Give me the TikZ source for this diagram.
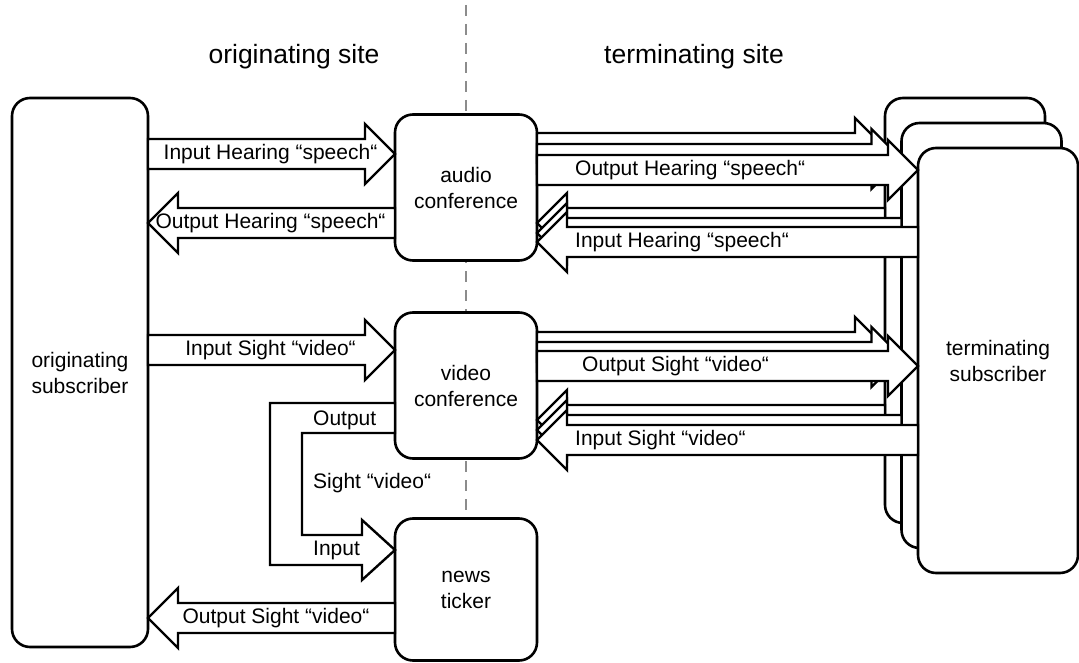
\documentclass[tikz,border=0pt]{standalone}
\usepackage{fontspec}
\setmainfont{Liberation Sans}
\usetikzlibrary{positioning,calc,backgrounds}
\definecolor{sitegray}{HTML}{8C8C8C}

% hollow block arrow between two points on one level
\newcommand{\flexarrow}[2]{%
  \draw[flex] let \p1=#1, \p2=#2, \p3=($#2!30pt!#1$) in
    (\x1,\y2+15pt) -- (\x3,\y2+15pt) -- (\x3,\y2+30pt) -- (\x2,\y2)
    -- (\x3,\y2-30pt) -- (\x3,\y2-15pt) -- (\x1,\y2-15pt) -- cycle;}

\begin{document}
\begin{tikzpicture}[x=1pt,y=-1pt,
  font=\fontsize{21}{26}\selectfont,
  box/.style={draw,line width=2.6pt,fill=white,rounded corners=18pt,align=center,
              inner sep=0pt,outer sep=0pt},
  midbox/.style={box,minimum width=142pt,minimum height=146pt},
  subbox/.style={box,minimum width=160pt,minimum height=425pt},
  flex/.style={draw,line width=2.4pt,fill=white,line join=miter},
  lbl/.style={inner sep=0pt},
  sitelbl/.style={font=\fontsize{26.5}{30}\selectfont},
  sep/.style={draw=sitegray,line width=2.4pt,dash pattern=on 11pt off 8pt}
]
\useasboundingbox (0,0) rectangle (1079,663);

% subscribers
\node[box,minimum width=136pt,minimum height=549pt] (orig) at (80,372.5) {originating\\subscriber};
\node[subbox] (tback) at (965,310.5) {};
\node[subbox] (tmid) at (981.5,335.5) {};
\node[subbox] (tfront) at (998,360.5) {terminating\\subscriber};

% services
\node[midbox] (audio) at (466,187.5) {audio\\conference};
\node[midbox,below=52pt of audio] (video) {video\\conference};
\node[midbox,minimum height=142pt,below=60pt of video] (news) {news\\ticker};

\node[sitelbl] (osite) at (294,57) {originating site};
\node[sitelbl] (tsite) at (694,57) {terminating site};

\begin{scope}[on background layer]
\draw[sep] (audio.center |- 0,5) -- (audio.center |- 0,663);
\end{scope}

% originating side
\flexarrow{(orig.east |- 0,154)}{(audio.west |- 0,154)}
\flexarrow{(audio.west |- 0,223)}{(orig.east |- 0,223)}
\flexarrow{(orig.east |- 0,350)}{(video.west |- 0,350)}
\flexarrow{(news.west |- 0,618)}{(orig.east |- 0,618)}
\draw[flex] (video.west |- 0,403) -| (270,565) -- (362,565) -- (362,580)
  -- (news.west |- 0,550) -- (362,520) -- (362,535) -| (302,433)
  -- (video.west |- 0,433) -- cycle;

% terminating side
\flexarrow{(audio.east |- 0,148)}{(tback.west |- 0,148)}
\flexarrow{(audio.east |- 0,159)}{(tmid.west |- 0,159)}
\flexarrow{(audio.east |- 0,170)}{(tfront.west |- 0,170)}
\flexarrow{(tback.west |- 0,223)}{(audio.east |- 0,223)}
\flexarrow{(tmid.west |- 0,233)}{(audio.east |- 0,233)}
\flexarrow{(tfront.west |- 0,242)}{(audio.east |- 0,242)}
\flexarrow{(video.east |- 0,347)}{(tback.west |- 0,347)}
\flexarrow{(video.east |- 0,357)}{(tmid.west |- 0,357)}
\flexarrow{(video.east |- 0,366)}{(tfront.west |- 0,366)}
\flexarrow{(tback.west |- 0,420)}{(video.east |- 0,420)}
\flexarrow{(tmid.west |- 0,430)}{(video.east |- 0,430)}
\flexarrow{(tfront.west |- 0,440)}{(video.east |- 0,440)}

% labels
\node[lbl] (inhear) at (270.5,154) {Input Hearing “speech“};
\node[lbl] (outhear) at (270.5,223) {Output Hearing “speech“};
\node[lbl] (insight) at (270.5,350) {Input Sight “video“};
\node[lbl] (outsight) at (276,618) {Output Sight “video“};
\node[lbl,anchor=west] (loopout) at (313,420) {Output};
\node[lbl,anchor=west] (loopmid) at (313,483) {Sight “video“};
\node[lbl,anchor=west] (loopin) at (313,550) {Input};
\node[lbl,anchor=west] (touthear) at (575,170) {Output Hearing “speech“};
\node[lbl,anchor=west] (tinhear) at (575,242) {Input Hearing “speech“};
\node[lbl,anchor=west] (toutsight) at (582,366) {Output Sight “video“};
\node[lbl,anchor=west] (tinsight) at (575,440) {Input Sight “video“};
\end{tikzpicture}
\end{document}
